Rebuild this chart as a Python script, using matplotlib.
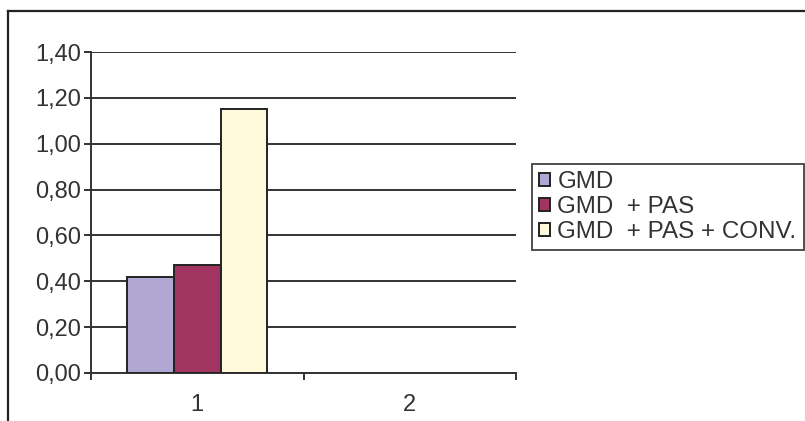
import matplotlib.pyplot as plt
from matplotlib.lines import Line2D
from matplotlib.ticker import FuncFormatter
import numpy as np

plt.rcParams['font.family'] = ['Liberation Sans', 'DejaVu Sans']

categories = ['1', '2']
series_names = ['GMD', 'GMD  + PAS', 'GMD  + PAS + CONV.']
gmd = [0.42, np.nan]
gmd_pas = [0.47, np.nan]
gmd_pas_conv = [1.15, np.nan]
colors = ['#B0A8D2', '#A23462', '#FFFADC']

fig = plt.figure(figsize=(8.05, 4.21), dpi=100)
ax = fig.add_axes([91/805, 48/421, 425/805, 321/421])

x = np.arange(1, len(categories) + 1)
w = 0.22
for i, (vals, name, c) in enumerate(zip([gmd, gmd_pas, gmd_pas_conv], series_names, colors)):
    ax.bar(x + (i - 1) * w, vals, w, color=c, edgecolor='#222222',
           linewidth=1.4, label=name, zorder=3)

ax.set_xlim(0.5, 2.5)
ax.set_ylim(0, 1.4)
ax.set_yticks(np.arange(0, 1.41, 0.2))
ax.yaxis.set_major_formatter(FuncFormatter(lambda v, p: f'{v:.2f}'.replace('.', ',')))
ax.grid(axis='y', color='#333333', linewidth=1.4, zorder=0)

ax.set_xticks(x)
ax.set_xticklabels(categories)
ax.set_xticks([0.5, 1.5, 2.5], minor=True)
ax.tick_params(axis='x', which='major', length=0, pad=15)
ax.tick_params(axis='x', which='minor', length=5, width=1.4, color='#333333')
ax.tick_params(axis='y', length=5, width=1.4, color='#333333', pad=2)
ax.tick_params(labelsize=17, labelcolor='#333333')

for s in ['top', 'right']:
    ax.spines[s].set_visible(False)
for s in ['left', 'bottom']:
    ax.spines[s].set_color('#333333')
    ax.spines[s].set_linewidth(1.4)

leg = ax.legend(loc='upper left', bbox_to_anchor=(532/805, 1 - 164/421),
                bbox_transform=fig.transFigure, fontsize=17.4, frameon=True,
                fancybox=False, edgecolor='#222222', handlelength=0.45,
                handleheight=0.45, handletextpad=0.3, borderpad=0.3,
                labelspacing=0.12, borderaxespad=0)
leg.get_frame().set_linewidth(1.4)
for t in leg.get_texts():
    t.set_color('#333333')

# chart border along the top and left
fig.add_artist(Line2D([8/805, 8/805], [0, 1 - 11/421], color='#222222', lw=1.6))
fig.add_artist(Line2D([8/805, 1], [1 - 11/421, 1 - 11/421], color='#222222', lw=1.6))

fig.savefig('out.png', dpi=100)
